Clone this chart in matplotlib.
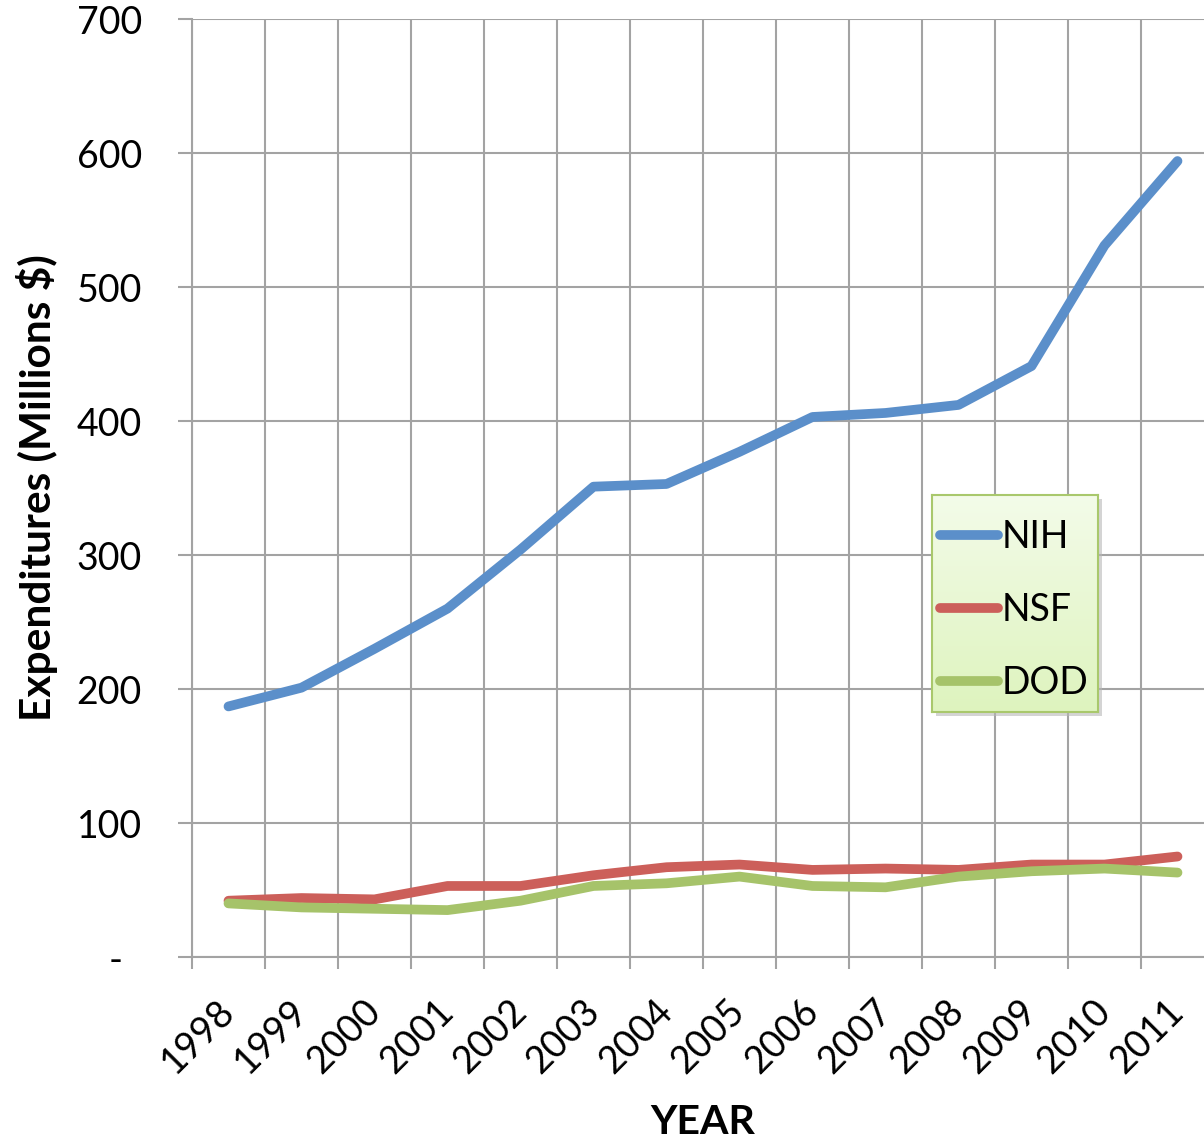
"""
Federal expenditures by agency, 1998-2011 (Excel-style line chart).

Saves:
    out.png
"""
import numpy as np
import matplotlib
matplotlib.use("Agg")
import matplotlib.pyplot as plt
from matplotlib.patches import Rectangle
from matplotlib.ticker import FixedLocator, FuncFormatter

# --- Data (millions of $) ---
years = ["1998", "1999", "2000", "2001", "2002", "2003", "2004",
         "2005", "2006", "2007", "2008", "2009", "2010", "2011"]
nih = [187, 201, 230, 260, 304, 351, 353, 377, 403, 406, 412, 441, 531, 594]
nsf = [42, 44, 43, 53, 53, 61, 67, 69, 65, 66, 65, 69, 69, 75]
dod = [40, 37, 36, 35, 42, 53, 55, 60, 53, 52, 60, 64, 66, 63]
series_names = ["NIH", "NSF", "DOD"]
y_ticks = [0, 100, 200, 300, 400, 500, 600, 700]

colors = ["#5b8fca", "#cc5f5a", "#a6c36a"]
grid_gray = "#a3a3a3"

plt.rcParams["font.family"] = ["Lato", "DejaVu Sans"]

W, H = 1204, 1140
fig = plt.figure(figsize=(W / 100, H / 100), dpi=100)


def px(x0, y0, w, h):
    """pixel box (top-left origin) -> figure fraction rect"""
    return [x0 / W, 1 - (y0 + h) / H, w / W, h / H]


ax = fig.add_axes(px(192, 19, 1022, 938))

x = np.arange(len(years))
for vals, name, c in zip([nih, nsf, dod], series_names, colors):
    ax.plot(x, vals, color=c, lw=7, solid_capstyle="round",
            solid_joinstyle="round", label=name, zorder=3)

ax.set_xlim(-0.5, len(years) - 0.5)
ax.set_ylim(0, 700)

# category labels at centres, tick marks/grid at boundaries
ax.xaxis.set_major_locator(FixedLocator(x))
ax.set_xticklabels(years)
ax.xaxis.set_minor_locator(FixedLocator(np.arange(len(years) + 1) - 0.5))
ax.tick_params(axis="x", which="major", length=0, pad=35, labelsize=27)
ax.tick_params(axis="x", which="minor", length=8.6, width=1.5, color=grid_gray)
for lab in ax.get_xticklabels():
    lab.set_rotation(45)
    lab.set_ha("right")
    lab.set_va("center")
    lab.set_rotation_mode("anchor")

ax.yaxis.set_major_locator(FixedLocator(y_ticks))
ax.yaxis.set_major_formatter(FuncFormatter(lambda v, p: "-  " if v == 0 else f"{int(v)}"))
ax.tick_params(axis="y", length=10, width=1.5, color=grid_gray, pad=26, labelsize=27)

ax.grid(True, axis="y", which="major", color=grid_gray, lw=1.5)
ax.grid(True, axis="x", which="minor", color=grid_gray, lw=1.5)
ax.set_axisbelow(True)

for s in ["top", "right"]:
    ax.spines[s].set_visible(False)
for s in ["left", "bottom"]:
    ax.spines[s].set_color(grid_gray)
    ax.spines[s].set_linewidth(1.5)

ax.set_xlabel("YEAR", fontsize=29.5, fontweight="bold")
ax.xaxis.set_label_coords(0.5, -0.157)
ax.set_ylabel("Expenditures (Millions $)", fontsize=30.5, fontweight="bold")
ax.yaxis.set_label_coords(-0.131, 0.5)

# --- Legend: gradient box with soft shadow ---
sh = px(936, 499, 166, 217)
fig.patches.append(Rectangle((sh[0], sh[1]), sh[2], sh[3], transform=fig.transFigure,
                             facecolor="#b8b8b8", edgecolor="none", alpha=0.6, zorder=0.5))

lax = fig.add_axes(px(932, 495, 166, 217), zorder=1)
grad = np.linspace(0, 1, 256)
top_c = np.array([0.955, 0.987, 0.915])
bot_c = np.array([0.870, 0.955, 0.745])
img = top_c[None, None, :] + (bot_c - top_c)[None, None, :] * grad[:, None, None]
lax.imshow(img, aspect="auto", extent=[0, 1, 0, 1])
lax.set_xticks([])
lax.set_yticks([])
for s in lax.spines.values():
    s.set_color("#a9c86c")
    s.set_linewidth(1.5)

handles, labels = ax.get_legend_handles_labels()
leg = fig.legend(handles, labels, loc="center",
                 bbox_to_anchor=(1014 / W, 1 - 610 / H),
                 frameon=False, fontsize=27, handlelength=1.55,
                 handletextpad=0.1, labelspacing=0.98, borderpad=0)
leg.set_zorder(5)

fig.savefig("out.png", dpi=100)
